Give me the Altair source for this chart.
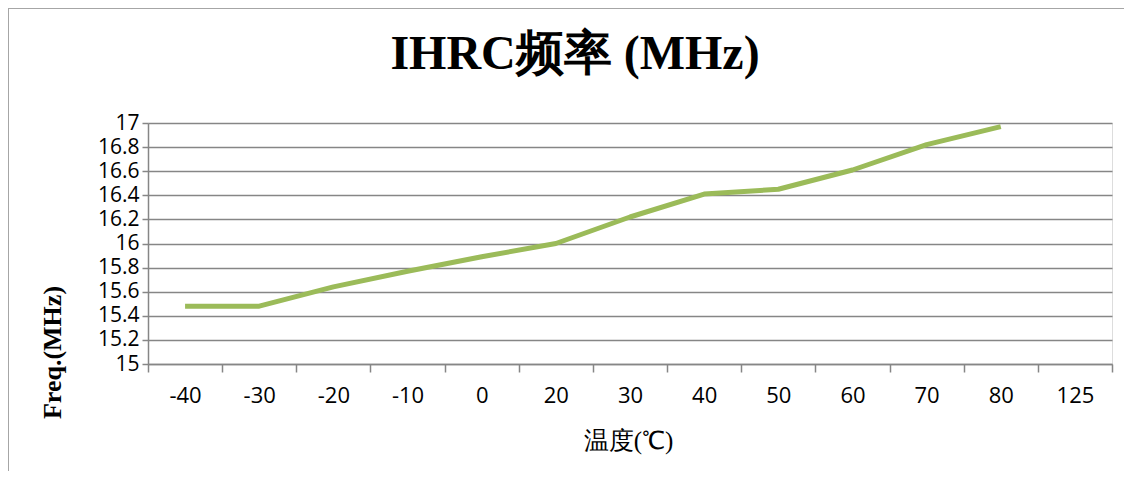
import altair as alt
import pandas as pd

categories = ["-40", "-30", "-20", "-10", "0", "20", "30", "40", "50", "60", "70", "80", "125"]
freq_cats = ["-40", "-30", "-20", "-10", "0", "20", "30", "40", "50", "60", "70", "80"]
freq_vals = [15.48, 15.48, 15.64, 15.77, 15.89, 16.0, 16.22, 16.41, 16.45, 16.61, 16.82, 16.97]
y_ticks = [15, 15.2, 15.4, 15.6, 15.8, 16, 16.2, 16.4, 16.6, 16.8, 17]

df = pd.DataFrame({"temp": freq_cats, "freq": freq_vals})

line = alt.Chart(df).mark_line(color="#9BBB59", strokeWidth=5, strokeCap="butt", strokeJoin="round").encode(
    x=alt.X("temp:N", sort=categories, scale=alt.Scale(domain=categories, paddingInner=0, paddingOuter=0),
            axis=alt.Axis(title="温度(℃)", labelAngle=0, labelFont="Open Sans", labelFontSize=22,
                          labelColor="#000000", labelPadding=13, tickBand="extent", tickSize=8,
                          tickColor="#868686", domainColor="#868686", domainWidth=1.5, tickWidth=1.5,
                          titleFont="Liberation Serif", titleFontSize=25, titleFontWeight="normal",
                          titleColor="#000000", titleX=480, titleY=76, titleAnchor="middle",
                          titleBaseline="middle", grid=False)),
    y=alt.Y("freq:Q", scale=alt.Scale(domain=[15, 17], nice=False, zero=False),
            axis=alt.Axis(values=y_ticks, format="~g", title="Freq.(MHz)", labelFont="Open Sans",
                          labelFontSize=21, labelColor="#000000", labelPadding=3, tickSize=6,
                          tickColor="#868686", tickWidth=1.5, domainColor="#868686", domainWidth=1.5,
                          gridColor="#868686", gridWidth=1.5,
                          titleFont="Liberation Serif", titleFontSize=26, titleFontWeight="bold",
                          titleColor="#000000", titleX=-96, titleY=229, titleAngle=-90,
                          titleAlign="center", titleBaseline="middle")),
)

frame = alt.Chart(pd.DataFrame({"k": [0]})).mark_rect(fillOpacity=0, stroke="#a6a6a6", strokeWidth=2).encode(
    x=alt.value(-140), x2=alt.value(1000), y=alt.value(-115), y2=alt.value(400)
)

chart = alt.layer(frame, line).properties(
    width=964,
    height=241,
    autosize=alt.AutoSizeParams(type="none"),
    padding={"left": 140, "top": 115, "right": 12, "bottom": 107},
    title=alt.TitleParams("IHRC频率 (MHz)", font="Liberation Serif", fontSize=48, fontWeight="bold",
                          color="#000000", anchor="middle", frame="group", dx=-55, offset=-72),
).configure_view(stroke=None).configure(background="#ffffff")

chart.save("out.html", embed_options={"renderer": "svg", "actions": False})
